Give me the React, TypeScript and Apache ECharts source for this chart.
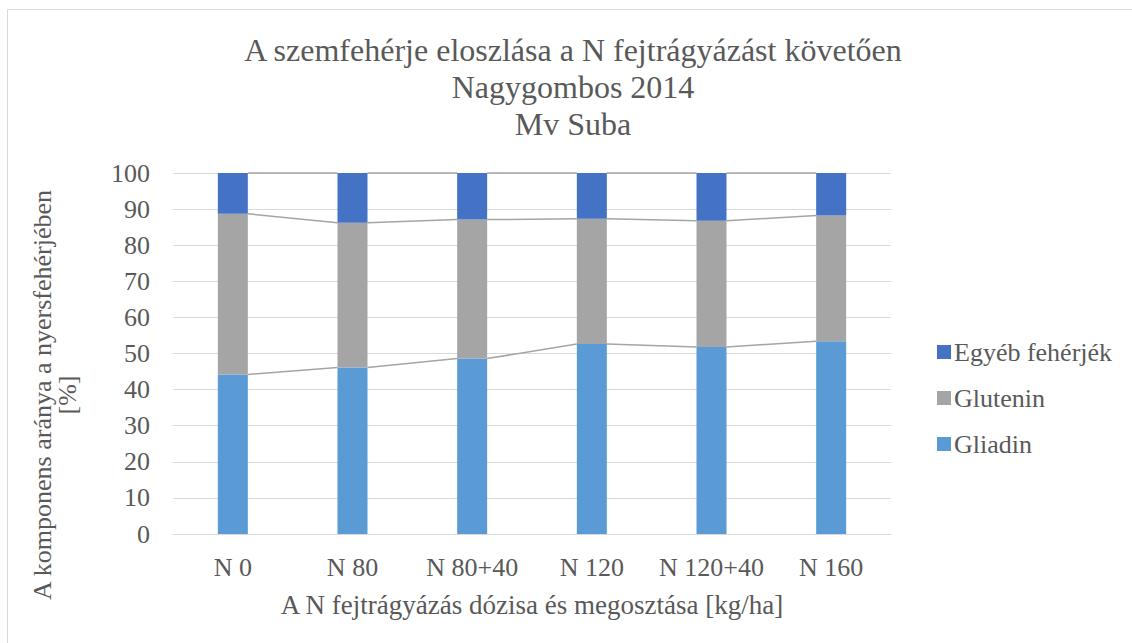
import React, { useEffect, useRef } from "react";
import * as echarts from "echarts";

const categories = ["N 0", "N 80", "N 80+40", "N 120", "N 120+40", "N 160"];
const gliadin = [44.2, 46.1, 48.6, 52.6, 51.8, 53.4];
const glutenin = [44.5, 40.1, 38.5, 34.7, 35.0, 34.8];
const egyeb = [11.3, 13.8, 12.9, 12.7, 13.2, 11.8];
const yTicks = [0, 10, 20, 30, 40, 50, 60, 70, 80, 90, 100];

const FONT = "Liberation Serif";
const TXT = "#595959";
const FS = 26;

export default function App() {
  const ref = useRef<HTMLDivElement>(null);
  useEffect(() => {
    document.body.style.margin = "0";
    if (!ref.current) return;
    const chart = echarts.init(ref.current, undefined, { renderer: "svg" });

    const cum1 = gliadin.map((g) => g);
    const cum2 = gliadin.map((g, i) => g + glutenin[i]);
    const cum3 = gliadin.map((g, i) => g + glutenin[i] + egyeb[i]);
    const lineData = categories.slice(0, -1).map((_, i) => [
      i,
      cum1[i],
      cum2[i],
      cum3[i],
      cum1[i + 1],
      cum2[i + 1],
      cum3[i + 1],
    ]);
    const half = 15;

    chart.setOption({
      animation: false,
      backgroundColor: "#ffffff",
      textStyle: { fontFamily: FONT },
      legend: {
        orient: "vertical",
        left: 932,
        top: 334,
        itemWidth: 14,
        itemHeight: 14,
        itemGap: 20,
        icon: "rect",
        data: ["Egyéb fehérjék", "Glutenin", "Gliadin"],
        textStyle: { fontFamily: FONT, fontSize: FS, color: TXT, padding: [0, 0, 0, -2] },
      },
      grid: { left: 173, right: 241, top: 173, bottom: 109, containLabel: false },
      xAxis: {
        type: "category",
        data: categories,
        axisLine: { show: true, lineStyle: { color: "#d9d9d9", width: 1 } },
        axisTick: { show: false },
        axisLabel: { fontFamily: FONT, fontSize: FS, color: TXT, margin: 20, interval: 0 },
      },
      yAxis: {
        type: "value",
        min: 0,
        max: 100,
        interval: 10,
        axisLine: { show: false },
        axisTick: { show: false },
        splitLine: { lineStyle: { color: "#d9d9d9", width: 1 } },
        axisLabel: {
          fontFamily: FONT,
          fontSize: FS,
          color: TXT,
          margin: 23,
          formatter: (v: number) => (yTicks.includes(v) ? String(v) : ""),
        },
      },
      series: [
        {
          name: "Gliadin",
          type: "bar",
          stack: "total",
          barWidth: 30,
          data: gliadin,
          itemStyle: { color: "#5B9BD5" },
          z: 3,
        },
        {
          name: "Glutenin",
          type: "bar",
          stack: "total",
          barWidth: 30,
          data: glutenin,
          itemStyle: { color: "#A5A5A5" },
          z: 3,
        },
        {
          name: "Egyéb fehérjék",
          type: "bar",
          stack: "total",
          barWidth: 30,
          data: egyeb,
          itemStyle: { color: "#4472C4" },
          z: 3,
        },
        {
          type: "custom",
          z: 2,
          silent: true,
          encode: { x: 0, y: [1, 2, 3, 4, 5, 6] },
          data: lineData,
          renderItem: (params: any, api: any) => {
            const i = api.value(0);
            const children: any[] = [];
            for (let k = 0; k < 3; k++) {
              const a = api.coord([i, api.value(1 + k)]);
              const b = api.coord([i + 1, api.value(4 + k)]);
              children.push({
                type: "line",
                shape: { x1: a[0] + half, y1: a[1], x2: b[0] - half, y2: b[1] },
                style: { stroke: "#a5a5a5", lineWidth: 1.5 },
              });
            }
            return { type: "group", children };
          },
        },
      ],
      graphic: [
        {
          type: "rect",
          shape: { x: 7.5, y: 9.5, width: 1130, height: 640 },
          style: { fill: "none", stroke: "#d9d9d9", lineWidth: 1 },
          silent: true,
        },
        {
          type: "text",
          x: 573,
          y: 31,
          style: {
            text: "A szemfehérje eloszlása a N fejtrágyázást követően\nNagygombos 2014\nMv Suba",
            fontFamily: FONT,
            fontSize: 32,
            lineHeight: 37,
            fill: TXT,
            align: "center",
            verticalAlign: "top",
          },
        },
        {
          type: "text",
          x: 55,
          y: 395,
          rotation: Math.PI / 2,
          style: {
            text: "A komponens aránya a nyersfehérjében\n[%]",
            fontFamily: FONT,
            fontSize: FS,
            lineHeight: 25,
            fill: TXT,
            align: "center",
            verticalAlign: "middle",
          },
        },
        {
          type: "text",
          x: 532,
          y: 605,
          style: {
            text: "A N fejtrágyázás dózisa és megosztása [kg/ha]",
            fontFamily: FONT,
            fontSize: 27,
            fill: TXT,
            align: "center",
            verticalAlign: "middle",
          },
        },
      ],
    });
    return () => chart.dispose();
  }, []);
  return <div ref={ref} style={{ width: 1132, height: 643 }} />;
}
